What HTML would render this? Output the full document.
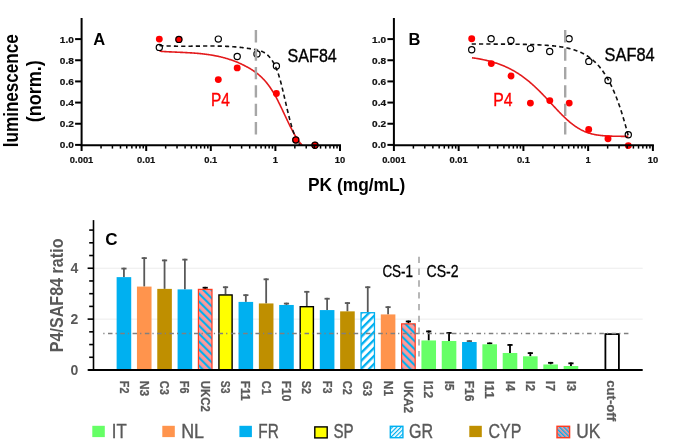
<!DOCTYPE html>
<html><head><meta charset="utf-8"><title>Figure</title>
<style>html,body{margin:0;padding:0;background:#fff;}svg{display:block;will-change:transform;}text{font-family:"Liberation Sans", sans-serif;}</style>
</head><body>
<svg width="685" height="445" viewBox="0 0 685 445">
<rect width="685" height="445" fill="#fff"/>
<g>
<clipPath id="clipA"><rect x="81.6" y="10" width="260.4" height="135.0"/></clipPath>
<path d="M159.50 51.23 L160.15 51.28 L160.81 51.32 L161.46 51.37 L162.12 51.41 L162.77 51.46 L163.43 51.50 L164.08 51.54 L164.74 51.58 L165.39 51.62 L166.05 51.65 L166.70 51.69 L167.36 51.73 L168.01 51.76 L168.67 51.79 L169.32 51.83 L169.98 51.86 L170.63 51.89 L171.29 51.92 L171.94 51.95 L172.60 51.98 L173.25 52.01 L173.91 52.04 L174.56 52.07 L175.22 52.10 L175.87 52.13 L176.53 52.16 L177.18 52.19 L177.83 52.21 L178.49 52.24 L179.14 52.27 L179.80 52.30 L180.45 52.33 L181.11 52.36 L181.76 52.39 L182.42 52.42 L183.07 52.45 L183.73 52.48 L184.38 52.51 L185.04 52.54 L185.69 52.58 L186.35 52.61 L187.00 52.65 L187.66 52.68 L188.31 52.72 L188.97 52.76 L189.62 52.79 L190.28 52.83 L190.93 52.87 L191.59 52.92 L192.24 52.96 L192.90 53.00 L193.55 53.05 L194.21 53.10 L194.86 53.15 L195.51 53.20 L196.17 53.25 L196.82 53.30 L197.48 53.36 L198.13 53.42 L198.79 53.48 L199.44 53.54 L200.10 53.60 L200.75 53.66 L201.41 53.73 L202.06 53.80 L202.72 53.87 L203.37 53.95 L204.03 54.02 L204.68 54.10 L205.34 54.18 L205.99 54.26 L206.65 54.35 L207.30 54.44 L207.96 54.53 L208.61 54.62 L209.27 54.72 L209.92 54.82 L210.58 54.92 L211.23 55.03 L211.88 55.14 L212.54 55.25 L213.19 55.36 L213.85 55.48 L214.50 55.60 L215.16 55.72 L215.81 55.85 L216.47 55.98 L217.12 56.12 L217.78 56.26 L218.43 56.40 L219.09 56.54 L219.74 56.69 L220.40 56.84 L221.05 57.00 L221.71 57.16 L222.36 57.33 L223.02 57.49 L223.67 57.67 L224.33 57.84 L224.98 58.02 L225.64 58.21 L226.29 58.40 L226.95 58.59 L227.60 58.79 L228.26 58.99 L228.91 59.20 L229.56 59.41 L230.22 59.62 L230.87 59.84 L231.53 60.07 L232.18 60.30 L232.84 60.53 L233.49 60.77 L234.15 61.02 L234.80 61.27 L235.46 61.52 L236.11 61.78 L236.77 62.05 L237.42 62.32 L238.08 62.60 L238.73 62.88 L239.39 63.16 L240.04 63.46 L240.70 63.75 L241.35 64.06 L242.01 64.37 L242.66 64.68 L243.32 65.00 L243.97 65.33 L244.63 65.66 L245.28 66.00 L245.94 66.34 L246.59 66.69 L247.24 67.05 L247.90 67.41 L248.55 67.78 L249.21 68.15 L249.86 68.54 L250.52 68.93 L251.17 69.32 L251.83 69.73 L252.48 70.15 L253.14 70.58 L253.79 71.02 L254.45 71.47 L255.10 71.93 L255.76 72.41 L256.41 72.89 L257.07 73.40 L257.72 73.92 L258.38 74.45 L259.03 75.00 L259.69 75.57 L260.34 76.16 L261.00 76.76 L261.65 77.38 L262.31 78.02 L262.96 78.69 L263.62 79.37 L264.27 80.07 L264.92 80.80 L265.58 81.55 L266.23 82.32 L266.89 83.12 L267.54 83.95 L268.20 84.79 L268.85 85.67 L269.51 86.57 L270.16 87.50 L270.82 88.45 L271.47 89.44 L272.13 90.46 L272.78 91.50 L273.44 92.58 L274.09 93.68 L274.75 94.82 L275.40 96.00 L276.06 97.20 L276.71 98.43 L277.37 99.68 L278.02 100.96 L278.68 102.27 L279.33 103.59 L279.99 104.93 L280.64 106.28 L281.29 107.64 L281.95 109.02 L282.60 110.41 L283.26 111.80 L283.91 113.19 L284.57 114.59 L285.22 115.99 L285.88 117.38 L286.53 118.77 L287.19 120.15 L287.84 121.53 L288.50 122.89 L289.15 124.24 L289.81 125.57 L290.46 126.89 L291.12 128.18 L291.77 129.45 L292.43 130.70 L293.08 131.92 L293.74 133.12 L294.39 134.28 L295.05 135.41 L295.70 136.50 L296.36 137.55 L297.01 138.57 L297.67 139.55 L298.32 140.49 L298.97 141.38 L299.63 142.24 L300.28 143.06 L300.94 143.83 L301.59 144.57 L302.25 145.26 L302.90 145.91 L303.56 146.52 L304.21 147.08 L304.87 147.60 L305.52 148.07 L306.18 148.50 L306.83 148.89 L307.49 149.23 L308.14 149.52 L308.80 149.77 L309.45 149.97 L310.11 150.12 L310.76 150.22 L311.42 150.28 L312.07 150.29 L312.73 150.24 L313.38 150.15 L314.04 150.01 L314.69 149.82 L315.35 149.58 L316.00 149.28" fill="none" stroke="#e31a1c" stroke-width="1.6" clip-path="url(#clipA)"/>
<path d="M159.30 45.49 L159.96 45.54 L160.61 45.58 L161.27 45.62 L161.92 45.67 L162.58 45.70 L163.23 45.74 L163.89 45.78 L164.55 45.81 L165.20 45.85 L165.86 45.88 L166.51 45.91 L167.17 45.93 L167.82 45.96 L168.48 45.98 L169.13 46.01 L169.79 46.03 L170.45 46.05 L171.10 46.07 L171.76 46.09 L172.41 46.10 L173.07 46.12 L173.72 46.13 L174.38 46.15 L175.04 46.16 L175.69 46.17 L176.35 46.18 L177.00 46.19 L177.66 46.19 L178.31 46.20 L178.97 46.20 L179.63 46.21 L180.28 46.21 L180.94 46.21 L181.59 46.22 L182.25 46.22 L182.90 46.22 L183.56 46.22 L184.21 46.22 L184.87 46.22 L185.53 46.21 L186.18 46.21 L186.84 46.21 L187.49 46.20 L188.15 46.20 L188.80 46.19 L189.46 46.19 L190.12 46.18 L190.77 46.18 L191.43 46.17 L192.08 46.16 L192.74 46.16 L193.39 46.15 L194.05 46.14 L194.71 46.14 L195.36 46.13 L196.02 46.12 L196.67 46.12 L197.33 46.11 L197.98 46.10 L198.64 46.09 L199.29 46.09 L199.95 46.08 L200.61 46.07 L201.26 46.07 L201.92 46.06 L202.57 46.05 L203.23 46.05 L203.88 46.04 L204.54 46.04 L205.20 46.04 L205.85 46.03 L206.51 46.03 L207.16 46.02 L207.82 46.02 L208.47 46.02 L209.13 46.02 L209.78 46.02 L210.44 46.02 L211.10 46.02 L211.75 46.02 L212.41 46.03 L213.06 46.03 L213.72 46.03 L214.37 46.04 L215.03 46.05 L215.69 46.05 L216.34 46.06 L217.00 46.07 L217.65 46.08 L218.31 46.09 L218.96 46.10 L219.62 46.12 L220.28 46.13 L220.93 46.15 L221.59 46.17 L222.24 46.19 L222.90 46.21 L223.55 46.23 L224.21 46.25 L224.86 46.28 L225.52 46.30 L226.18 46.33 L226.83 46.36 L227.49 46.39 L228.14 46.42 L228.80 46.46 L229.45 46.49 L230.11 46.53 L230.77 46.57 L231.42 46.61 L232.08 46.66 L232.73 46.70 L233.39 46.75 L234.04 46.80 L234.70 46.85 L235.36 46.90 L236.01 46.96 L236.67 47.01 L237.32 47.07 L237.98 47.13 L238.63 47.20 L239.29 47.26 L239.94 47.33 L240.60 47.40 L241.26 47.47 L241.91 47.55 L242.57 47.63 L243.22 47.71 L243.88 47.79 L244.53 47.87 L245.19 47.96 L245.85 48.05 L246.50 48.14 L247.16 48.24 L247.81 48.34 L248.47 48.44 L249.12 48.54 L249.78 48.65 L250.44 48.76 L251.09 48.87 L251.75 48.98 L252.40 49.10 L253.06 49.22 L253.71 49.35 L254.37 49.47 L255.02 49.60 L255.68 49.74 L256.34 49.87 L256.99 50.01 L257.65 50.16 L258.30 50.31 L258.96 50.48 L259.61 50.66 L260.27 50.86 L260.93 51.08 L261.58 51.32 L262.24 51.58 L262.89 51.88 L263.55 52.20 L264.20 52.56 L264.86 52.95 L265.52 53.38 L266.17 53.85 L266.83 54.37 L267.48 54.93 L268.14 55.54 L268.79 56.20 L269.45 56.92 L270.10 57.69 L270.76 58.53 L271.42 59.42 L272.07 60.38 L272.73 61.41 L273.38 62.51 L274.04 63.69 L274.69 64.95 L275.35 66.30 L276.01 67.76 L276.66 69.33 L277.32 71.03 L277.97 72.85 L278.63 74.81 L279.28 76.92 L279.94 79.18 L280.59 81.56 L281.25 84.06 L281.91 86.66 L282.56 89.34 L283.22 92.08 L283.87 94.87 L284.53 97.70 L285.18 100.54 L285.84 103.38 L286.50 106.21 L287.15 109.00 L287.81 111.75 L288.46 114.43 L289.12 117.05 L289.77 119.58 L290.43 122.03 L291.09 124.38 L291.74 126.63 L292.40 128.76 L293.05 130.78 L293.71 132.67 L294.36 134.44 L295.02 136.10 L295.67 137.64 L296.33 139.08 L296.99 140.41 L297.64 141.64 L298.30 142.77 L298.95 143.81 L299.61 144.75 L300.26 145.61 L300.92 146.38 L301.58 147.06 L302.23 147.67 L302.89 148.20 L303.54 148.66 L304.20 149.05 L304.85 149.38 L305.51 149.64 L306.17 149.85 L306.82 149.99 L307.48 150.09 L308.13 150.13 L308.79 150.13 L309.44 150.08 L310.10 150.00 L310.75 149.88 L311.41 149.72 L312.07 149.54 L312.72 149.33 L313.38 149.09 L314.03 148.84 L314.69 148.57 L315.34 148.28 L316.00 147.99" fill="none" stroke="#111" stroke-width="1.6" stroke-dasharray="4.2 3.1" clip-path="url(#clipA)"/>
<circle cx="159.3" cy="39.1" r="3.45" fill="#ff0000"/>
<circle cx="178.9" cy="39.4" r="3.45" fill="#ff0000"/>
<circle cx="218.3" cy="79.6" r="3.45" fill="#ff0000"/>
<circle cx="237.2" cy="67.9" r="3.45" fill="#ff0000"/>
<circle cx="276.4" cy="93.5" r="3.45" fill="#ff0000"/>
<circle cx="295.8" cy="140" r="3.45" fill="#ff0000"/>
<circle cx="315" cy="145.3" r="3.45" fill="#ff0000"/>
<circle cx="159.3" cy="47.4" r="3.1" fill="none" stroke="#000" stroke-width="1.2"/>
<circle cx="178.9" cy="39.4" r="3.1" fill="none" stroke="#000" stroke-width="1.2"/>
<circle cx="218.3" cy="39.1" r="3.1" fill="none" stroke="#000" stroke-width="1.2"/>
<circle cx="237.2" cy="56.5" r="3.1" fill="none" stroke="#000" stroke-width="1.2"/>
<circle cx="257" cy="53.9" r="3.1" fill="none" stroke="#000" stroke-width="1.2"/>
<circle cx="276.4" cy="66" r="3.1" fill="none" stroke="#000" stroke-width="1.2"/>
<circle cx="295.8" cy="140" r="3.1" fill="none" stroke="#000" stroke-width="1.2"/>
<circle cx="315" cy="145.3" r="3.1" fill="none" stroke="#000" stroke-width="1.2"/>
<line x1="255.9" y1="30.1" x2="255.9" y2="134.8" stroke="#a6a6a6" stroke-width="2.4" stroke-dasharray="12.3 6.1"/>
<line x1="81.6" y1="18" x2="81.6" y2="146" stroke="#000" stroke-width="2" />
<line x1="80.6" y1="145.3" x2="341" y2="145.3" stroke="#000" stroke-width="2" />
<line x1="75.1" y1="144.9" x2="81.6" y2="144.9" stroke="#000" stroke-width="2" />
<text x="73.8" y="148.4" font-size="9.3" font-weight="bold" fill="#111" text-anchor="end" stroke="#111" stroke-width="0.2" textLength="14" lengthAdjust="spacingAndGlyphs" >0.0</text>
<line x1="75.1" y1="123.74" x2="81.6" y2="123.74" stroke="#000" stroke-width="2" />
<text x="73.8" y="127.24" font-size="9.3" font-weight="bold" fill="#111" text-anchor="end" stroke="#111" stroke-width="0.2" textLength="14" lengthAdjust="spacingAndGlyphs" >0.2</text>
<line x1="75.1" y1="102.58" x2="81.6" y2="102.58" stroke="#000" stroke-width="2" />
<text x="73.8" y="106.08" font-size="9.3" font-weight="bold" fill="#111" text-anchor="end" stroke="#111" stroke-width="0.2" textLength="14" lengthAdjust="spacingAndGlyphs" >0.4</text>
<line x1="75.1" y1="81.42" x2="81.6" y2="81.42" stroke="#000" stroke-width="2" />
<text x="73.8" y="84.92" font-size="9.3" font-weight="bold" fill="#111" text-anchor="end" stroke="#111" stroke-width="0.2" textLength="14" lengthAdjust="spacingAndGlyphs" >0.6</text>
<line x1="75.1" y1="60.26" x2="81.6" y2="60.26" stroke="#000" stroke-width="2" />
<text x="73.8" y="63.76" font-size="9.3" font-weight="bold" fill="#111" text-anchor="end" stroke="#111" stroke-width="0.2" textLength="14" lengthAdjust="spacingAndGlyphs" >0.8</text>
<line x1="75.1" y1="39.1" x2="81.6" y2="39.1" stroke="#000" stroke-width="2" />
<text x="73.8" y="42.6" font-size="9.3" font-weight="bold" fill="#111" text-anchor="end" stroke="#111" stroke-width="0.2" textLength="14" lengthAdjust="spacingAndGlyphs" >1.0</text>
<line x1="81.6" y1="145" x2="81.6" y2="151" stroke="#000" stroke-width="2" />
<text x="81.6" y="162.8" font-size="9.4" font-weight="bold" fill="#111" text-anchor="middle" stroke="#111" stroke-width="0.2" >0.001</text>
<line x1="101.05" y1="145" x2="101.05" y2="148.6" stroke="#000" stroke-width="1.5" />
<line x1="112.42" y1="145" x2="112.42" y2="148.6" stroke="#000" stroke-width="1.5" />
<line x1="120.49" y1="145" x2="120.49" y2="148.6" stroke="#000" stroke-width="1.5" />
<line x1="126.75" y1="145" x2="126.75" y2="148.6" stroke="#000" stroke-width="1.5" />
<line x1="131.87" y1="145" x2="131.87" y2="148.6" stroke="#000" stroke-width="1.5" />
<line x1="136.19" y1="145" x2="136.19" y2="148.6" stroke="#000" stroke-width="1.5" />
<line x1="139.94" y1="145" x2="139.94" y2="148.6" stroke="#000" stroke-width="1.5" />
<line x1="143.24" y1="145" x2="143.24" y2="148.6" stroke="#000" stroke-width="1.5" />
<line x1="146.2" y1="145" x2="146.2" y2="151" stroke="#000" stroke-width="2" />
<text x="146.2" y="162.8" font-size="9.4" font-weight="bold" fill="#111" text-anchor="middle" stroke="#111" stroke-width="0.2" >0.01</text>
<line x1="165.65" y1="145" x2="165.65" y2="148.6" stroke="#000" stroke-width="1.5" />
<line x1="177.02" y1="145" x2="177.02" y2="148.6" stroke="#000" stroke-width="1.5" />
<line x1="185.09" y1="145" x2="185.09" y2="148.6" stroke="#000" stroke-width="1.5" />
<line x1="191.35" y1="145" x2="191.35" y2="148.6" stroke="#000" stroke-width="1.5" />
<line x1="196.47" y1="145" x2="196.47" y2="148.6" stroke="#000" stroke-width="1.5" />
<line x1="200.79" y1="145" x2="200.79" y2="148.6" stroke="#000" stroke-width="1.5" />
<line x1="204.54" y1="145" x2="204.54" y2="148.6" stroke="#000" stroke-width="1.5" />
<line x1="207.84" y1="145" x2="207.84" y2="148.6" stroke="#000" stroke-width="1.5" />
<line x1="210.8" y1="145" x2="210.8" y2="151" stroke="#000" stroke-width="2" />
<text x="210.8" y="162.8" font-size="9.4" font-weight="bold" fill="#111" text-anchor="middle" stroke="#111" stroke-width="0.2" >0.1</text>
<line x1="230.25" y1="145" x2="230.25" y2="148.6" stroke="#000" stroke-width="1.5" />
<line x1="241.62" y1="145" x2="241.62" y2="148.6" stroke="#000" stroke-width="1.5" />
<line x1="249.69" y1="145" x2="249.69" y2="148.6" stroke="#000" stroke-width="1.5" />
<line x1="255.95" y1="145" x2="255.95" y2="148.6" stroke="#000" stroke-width="1.5" />
<line x1="261.07" y1="145" x2="261.07" y2="148.6" stroke="#000" stroke-width="1.5" />
<line x1="265.39" y1="145" x2="265.39" y2="148.6" stroke="#000" stroke-width="1.5" />
<line x1="269.14" y1="145" x2="269.14" y2="148.6" stroke="#000" stroke-width="1.5" />
<line x1="272.44" y1="145" x2="272.44" y2="148.6" stroke="#000" stroke-width="1.5" />
<line x1="275.4" y1="145" x2="275.4" y2="151" stroke="#000" stroke-width="2" />
<text x="275.4" y="162.8" font-size="9.4" font-weight="bold" fill="#111" text-anchor="middle" stroke="#111" stroke-width="0.2" >1</text>
<line x1="294.85" y1="145" x2="294.85" y2="148.6" stroke="#000" stroke-width="1.5" />
<line x1="306.22" y1="145" x2="306.22" y2="148.6" stroke="#000" stroke-width="1.5" />
<line x1="314.29" y1="145" x2="314.29" y2="148.6" stroke="#000" stroke-width="1.5" />
<line x1="320.55" y1="145" x2="320.55" y2="148.6" stroke="#000" stroke-width="1.5" />
<line x1="325.67" y1="145" x2="325.67" y2="148.6" stroke="#000" stroke-width="1.5" />
<line x1="329.99" y1="145" x2="329.99" y2="148.6" stroke="#000" stroke-width="1.5" />
<line x1="333.74" y1="145" x2="333.74" y2="148.6" stroke="#000" stroke-width="1.5" />
<line x1="337.04" y1="145" x2="337.04" y2="148.6" stroke="#000" stroke-width="1.5" />
<line x1="340" y1="145" x2="340" y2="151" stroke="#000" stroke-width="2" />
<text x="340" y="162.8" font-size="9.4" font-weight="bold" fill="#111" text-anchor="middle" stroke="#111" stroke-width="0.2" >10</text>
<text x="93.3" y="45.3" font-size="16.5" font-weight="bold" fill="#000" text-anchor="start" >A</text>
<text x="287.6" y="61.7" font-size="17.6" font-weight="normal" fill="#000" text-anchor="start" stroke="#000" stroke-width="0.35" textLength="49.2" lengthAdjust="spacingAndGlyphs" >SAF84</text>
<text x="211" y="105.6" font-size="17.6" font-weight="normal" fill="#ff0000" text-anchor="start" stroke="#ff0000" stroke-width="0.35" textLength="18.9" lengthAdjust="spacingAndGlyphs" >P4</text>
</g>
<g>
<clipPath id="clipB"><rect x="393.9" y="10" width="261.0" height="135.0"/></clipPath>
<path d="M472.00 57.74 L472.65 57.84 L473.31 57.93 L473.96 58.03 L474.62 58.13 L475.27 58.23 L475.92 58.33 L476.58 58.44 L477.23 58.55 L477.89 58.66 L478.54 58.78 L479.19 58.90 L479.85 59.02 L480.50 59.14 L481.16 59.26 L481.81 59.39 L482.46 59.53 L483.12 59.66 L483.77 59.80 L484.43 59.94 L485.08 60.09 L485.73 60.23 L486.39 60.39 L487.04 60.54 L487.70 60.70 L488.35 60.86 L489.00 61.03 L489.66 61.20 L490.31 61.37 L490.97 61.55 L491.62 61.73 L492.27 61.92 L492.93 62.11 L493.58 62.30 L494.24 62.50 L494.89 62.71 L495.54 62.91 L496.20 63.13 L496.85 63.34 L497.51 63.56 L498.16 63.79 L498.81 64.02 L499.47 64.26 L500.12 64.50 L500.77 64.75 L501.43 65.00 L502.08 65.26 L502.74 65.52 L503.39 65.79 L504.04 66.07 L504.70 66.35 L505.35 66.63 L506.01 66.92 L506.66 67.22 L507.31 67.53 L507.97 67.84 L508.62 68.15 L509.28 68.47 L509.93 68.80 L510.58 69.14 L511.24 69.48 L511.89 69.83 L512.55 70.19 L513.20 70.55 L513.85 70.92 L514.51 71.29 L515.16 71.68 L515.82 72.07 L516.47 72.46 L517.12 72.87 L517.78 73.28 L518.43 73.70 L519.09 74.13 L519.74 74.56 L520.39 75.00 L521.05 75.45 L521.70 75.91 L522.36 76.37 L523.01 76.84 L523.66 77.32 L524.32 77.81 L524.97 78.30 L525.63 78.80 L526.28 79.31 L526.93 79.83 L527.59 80.35 L528.24 80.88 L528.90 81.42 L529.55 81.97 L530.20 82.53 L530.86 83.09 L531.51 83.66 L532.17 84.23 L532.82 84.82 L533.47 85.41 L534.13 86.00 L534.78 86.61 L535.44 87.22 L536.09 87.84 L536.74 88.46 L537.40 89.09 L538.05 89.73 L538.71 90.37 L539.36 91.02 L540.01 91.67 L540.67 92.33 L541.32 92.99 L541.98 93.66 L542.63 94.33 L543.28 95.01 L543.94 95.69 L544.59 96.38 L545.25 97.07 L545.90 97.76 L546.55 98.46 L547.21 99.16 L547.86 99.86 L548.52 100.56 L549.17 101.26 L549.82 101.97 L550.48 102.68 L551.13 103.38 L551.78 104.09 L552.44 104.80 L553.09 105.50 L553.75 106.21 L554.40 106.91 L555.05 107.62 L555.71 108.32 L556.36 109.01 L557.02 109.71 L557.67 110.40 L558.32 111.09 L558.98 111.77 L559.63 112.45 L560.29 113.12 L560.94 113.79 L561.59 114.45 L562.25 115.10 L562.90 115.75 L563.56 116.39 L564.21 117.02 L564.86 117.65 L565.52 118.27 L566.17 118.87 L566.83 119.47 L567.48 120.06 L568.13 120.64 L568.79 121.21 L569.44 121.77 L570.10 122.32 L570.75 122.86 L571.40 123.39 L572.06 123.90 L572.71 124.41 L573.37 124.90 L574.02 125.38 L574.67 125.85 L575.33 126.31 L575.98 126.75 L576.64 127.19 L577.29 127.61 L577.94 128.02 L578.60 128.41 L579.25 128.79 L579.91 129.17 L580.56 129.52 L581.21 129.87 L581.87 130.20 L582.52 130.53 L583.18 130.84 L583.83 131.14 L584.48 131.42 L585.14 131.70 L585.79 131.96 L586.45 132.21 L587.10 132.46 L587.75 132.69 L588.41 132.91 L589.06 133.12 L589.72 133.32 L590.37 133.51 L591.02 133.69 L591.68 133.86 L592.33 134.03 L592.99 134.18 L593.64 134.33 L594.29 134.47 L594.95 134.60 L595.60 134.72 L596.26 134.84 L596.91 134.95 L597.56 135.05 L598.22 135.15 L598.87 135.24 L599.53 135.32 L600.18 135.40 L600.83 135.48 L601.49 135.55 L602.14 135.61 L602.79 135.67 L603.45 135.73 L604.10 135.78 L604.76 135.83 L605.41 135.88 L606.06 135.92 L606.72 135.96 L607.37 135.99 L608.03 136.02 L608.68 136.05 L609.33 136.08 L609.99 136.11 L610.64 136.13 L611.30 136.15 L611.95 136.17 L612.60 136.19 L613.26 136.21 L613.91 136.22 L614.57 136.24 L615.22 136.25 L615.87 136.26 L616.53 136.27 L617.18 136.28 L617.84 136.29 L618.49 136.30 L619.14 136.31 L619.80 136.31 L620.45 136.32 L621.11 136.33 L621.76 136.33 L622.41 136.34 L623.07 136.34 L623.72 136.34 L624.38 136.35 L625.03 136.35 L625.68 136.35 L626.34 136.35 L626.99 136.36 L627.65 136.36 L628.30 136.36" fill="none" stroke="#e31a1c" stroke-width="1.6" clip-path="url(#clipB)"/>
<path d="M471.70 44.03 L472.36 44.03 L473.01 44.03 L473.67 44.03 L474.32 44.03 L474.98 44.03 L475.63 44.03 L476.29 44.03 L476.94 44.03 L477.60 44.03 L478.25 44.04 L478.91 44.04 L479.56 44.04 L480.22 44.04 L480.87 44.04 L481.53 44.04 L482.18 44.04 L482.84 44.04 L483.49 44.05 L484.15 44.05 L484.80 44.05 L485.46 44.05 L486.12 44.05 L486.77 44.05 L487.43 44.05 L488.08 44.06 L488.74 44.06 L489.39 44.06 L490.05 44.06 L490.70 44.06 L491.36 44.07 L492.01 44.07 L492.67 44.07 L493.32 44.07 L493.98 44.08 L494.63 44.08 L495.29 44.08 L495.94 44.08 L496.60 44.09 L497.25 44.09 L497.91 44.09 L498.56 44.10 L499.22 44.10 L499.87 44.10 L500.53 44.11 L501.19 44.11 L501.84 44.11 L502.50 44.12 L503.15 44.12 L503.81 44.13 L504.46 44.13 L505.12 44.14 L505.77 44.14 L506.43 44.15 L507.08 44.15 L507.74 44.16 L508.39 44.16 L509.05 44.17 L509.70 44.17 L510.36 44.18 L511.01 44.19 L511.67 44.19 L512.32 44.20 L512.98 44.21 L513.63 44.22 L514.29 44.22 L514.95 44.23 L515.60 44.24 L516.26 44.25 L516.91 44.26 L517.57 44.27 L518.22 44.28 L518.88 44.29 L519.53 44.30 L520.19 44.31 L520.84 44.32 L521.50 44.33 L522.15 44.34 L522.81 44.35 L523.46 44.37 L524.12 44.38 L524.77 44.39 L525.43 44.41 L526.08 44.42 L526.74 44.44 L527.39 44.45 L528.05 44.47 L528.71 44.49 L529.36 44.51 L530.02 44.52 L530.67 44.54 L531.33 44.56 L531.98 44.58 L532.64 44.60 L533.29 44.63 L533.95 44.65 L534.60 44.67 L535.26 44.70 L535.91 44.72 L536.57 44.75 L537.22 44.78 L537.88 44.81 L538.53 44.83 L539.19 44.87 L539.84 44.90 L540.50 44.93 L541.15 44.96 L541.81 45.00 L542.46 45.04 L543.12 45.07 L543.78 45.11 L544.43 45.15 L545.09 45.20 L545.74 45.24 L546.40 45.28 L547.05 45.33 L547.71 45.38 L548.36 45.43 L549.02 45.48 L549.67 45.54 L550.33 45.59 L550.98 45.65 L551.64 45.71 L552.29 45.78 L552.95 45.84 L553.60 45.91 L554.26 45.98 L554.91 46.05 L555.57 46.13 L556.22 46.20 L556.88 46.29 L557.54 46.37 L558.19 46.46 L558.85 46.55 L559.50 46.64 L560.16 46.73 L560.81 46.84 L561.47 46.94 L562.12 47.05 L562.78 47.16 L563.43 47.27 L564.09 47.39 L564.74 47.52 L565.40 47.65 L566.05 47.78 L566.71 47.92 L567.36 48.06 L568.02 48.21 L568.67 48.36 L569.33 48.52 L569.98 48.68 L570.64 48.86 L571.29 49.03 L571.95 49.22 L572.61 49.40 L573.26 49.60 L573.92 49.81 L574.57 50.02 L575.23 50.23 L575.88 50.46 L576.54 50.70 L577.19 50.94 L577.85 51.19 L578.50 51.45 L579.16 51.72 L579.81 52.00 L580.47 52.29 L581.12 52.59 L581.78 52.90 L582.43 53.22 L583.09 53.55 L583.74 53.89 L584.40 54.25 L585.05 54.62 L585.71 55.00 L586.37 55.39 L587.02 55.80 L587.68 56.22 L588.33 56.66 L588.99 57.11 L589.64 57.58 L590.30 58.06 L590.95 58.56 L591.61 59.08 L592.26 59.62 L592.92 60.17 L593.57 60.74 L594.23 61.33 L594.88 61.94 L595.54 62.58 L596.19 63.23 L596.85 63.90 L597.50 64.60 L598.16 65.32 L598.81 66.07 L599.47 66.83 L600.13 67.63 L600.78 68.45 L601.44 69.29 L602.09 70.17 L602.75 71.07 L603.40 72.00 L604.06 72.96 L604.71 73.94 L605.37 74.97 L606.02 76.02 L606.68 77.10 L607.33 78.22 L607.99 79.37 L608.64 80.56 L609.30 81.78 L609.95 83.04 L610.61 84.34 L611.26 85.67 L611.92 87.05 L612.57 88.46 L613.23 89.92 L613.88 91.41 L614.54 92.95 L615.20 94.53 L615.85 96.15 L616.51 97.82 L617.16 99.53 L617.82 101.29 L618.47 103.10 L619.13 104.95 L619.78 106.85 L620.44 108.80 L621.09 110.79 L621.75 112.83 L622.40 114.93 L623.06 117.07 L623.71 119.26 L624.37 121.51 L625.02 123.80 L625.68 126.15 L626.33 128.54 L626.99 130.99 L627.64 133.49 L628.30 136.04" fill="none" stroke="#111" stroke-width="1.6" stroke-dasharray="4.2 3.1" clip-path="url(#clipB)"/>
<circle cx="471.7" cy="38.8" r="3.45" fill="#ff0000"/>
<circle cx="491.3" cy="63.6" r="3.45" fill="#ff0000"/>
<circle cx="511" cy="76" r="3.45" fill="#ff0000"/>
<circle cx="530.4" cy="103.1" r="3.45" fill="#ff0000"/>
<circle cx="549.8" cy="100.6" r="3.45" fill="#ff0000"/>
<circle cx="569.2" cy="103.1" r="3.45" fill="#ff0000"/>
<circle cx="588.7" cy="129.4" r="3.45" fill="#ff0000"/>
<circle cx="608" cy="138.8" r="3.45" fill="#ff0000"/>
<circle cx="628.3" cy="145.6" r="3.45" fill="#ff0000"/>
<circle cx="471.7" cy="49.8" r="3.1" fill="none" stroke="#000" stroke-width="1.2"/>
<circle cx="491.1" cy="38.8" r="3.1" fill="none" stroke="#000" stroke-width="1.2"/>
<circle cx="510.9" cy="40.4" r="3.1" fill="none" stroke="#000" stroke-width="1.2"/>
<circle cx="530.5" cy="48.6" r="3.1" fill="none" stroke="#000" stroke-width="1.2"/>
<circle cx="549.7" cy="51.5" r="3.1" fill="none" stroke="#000" stroke-width="1.2"/>
<circle cx="569.1" cy="38.8" r="3.1" fill="none" stroke="#000" stroke-width="1.2"/>
<circle cx="588.8" cy="61.4" r="3.1" fill="none" stroke="#000" stroke-width="1.2"/>
<circle cx="608" cy="80.5" r="3.1" fill="none" stroke="#000" stroke-width="1.2"/>
<circle cx="628.3" cy="134.8" r="3.1" fill="none" stroke="#000" stroke-width="1.2"/>
<line x1="565.2" y1="30.1" x2="565.2" y2="134.8" stroke="#a6a6a6" stroke-width="2.4" stroke-dasharray="12.3 6.1"/>
<line x1="393.9" y1="18" x2="393.9" y2="146" stroke="#000" stroke-width="2" />
<line x1="392.9" y1="145.3" x2="653.9" y2="145.3" stroke="#000" stroke-width="2" />
<line x1="387.4" y1="144.9" x2="393.9" y2="144.9" stroke="#000" stroke-width="2" />
<text x="386.1" y="148.4" font-size="9.3" font-weight="bold" fill="#111" text-anchor="end" stroke="#111" stroke-width="0.2" textLength="14" lengthAdjust="spacingAndGlyphs" >0.0</text>
<line x1="387.4" y1="123.74" x2="393.9" y2="123.74" stroke="#000" stroke-width="2" />
<text x="386.1" y="127.24" font-size="9.3" font-weight="bold" fill="#111" text-anchor="end" stroke="#111" stroke-width="0.2" textLength="14" lengthAdjust="spacingAndGlyphs" >0.2</text>
<line x1="387.4" y1="102.58" x2="393.9" y2="102.58" stroke="#000" stroke-width="2" />
<text x="386.1" y="106.08" font-size="9.3" font-weight="bold" fill="#111" text-anchor="end" stroke="#111" stroke-width="0.2" textLength="14" lengthAdjust="spacingAndGlyphs" >0.4</text>
<line x1="387.4" y1="81.42" x2="393.9" y2="81.42" stroke="#000" stroke-width="2" />
<text x="386.1" y="84.92" font-size="9.3" font-weight="bold" fill="#111" text-anchor="end" stroke="#111" stroke-width="0.2" textLength="14" lengthAdjust="spacingAndGlyphs" >0.6</text>
<line x1="387.4" y1="60.26" x2="393.9" y2="60.26" stroke="#000" stroke-width="2" />
<text x="386.1" y="63.76" font-size="9.3" font-weight="bold" fill="#111" text-anchor="end" stroke="#111" stroke-width="0.2" textLength="14" lengthAdjust="spacingAndGlyphs" >0.8</text>
<line x1="387.4" y1="39.1" x2="393.9" y2="39.1" stroke="#000" stroke-width="2" />
<text x="386.1" y="42.6" font-size="9.3" font-weight="bold" fill="#111" text-anchor="end" stroke="#111" stroke-width="0.2" textLength="14" lengthAdjust="spacingAndGlyphs" >1.0</text>
<line x1="393.9" y1="145" x2="393.9" y2="151" stroke="#000" stroke-width="2" />
<text x="393.9" y="162.8" font-size="9.4" font-weight="bold" fill="#111" text-anchor="middle" stroke="#111" stroke-width="0.2" >0.001</text>
<line x1="413.39" y1="145" x2="413.39" y2="148.6" stroke="#000" stroke-width="1.5" />
<line x1="424.79" y1="145" x2="424.79" y2="148.6" stroke="#000" stroke-width="1.5" />
<line x1="432.88" y1="145" x2="432.88" y2="148.6" stroke="#000" stroke-width="1.5" />
<line x1="439.16" y1="145" x2="439.16" y2="148.6" stroke="#000" stroke-width="1.5" />
<line x1="444.29" y1="145" x2="444.29" y2="148.6" stroke="#000" stroke-width="1.5" />
<line x1="448.62" y1="145" x2="448.62" y2="148.6" stroke="#000" stroke-width="1.5" />
<line x1="452.38" y1="145" x2="452.38" y2="148.6" stroke="#000" stroke-width="1.5" />
<line x1="455.69" y1="145" x2="455.69" y2="148.6" stroke="#000" stroke-width="1.5" />
<line x1="458.65" y1="145" x2="458.65" y2="151" stroke="#000" stroke-width="2" />
<text x="458.65" y="162.8" font-size="9.4" font-weight="bold" fill="#111" text-anchor="middle" stroke="#111" stroke-width="0.2" >0.01</text>
<line x1="478.14" y1="145" x2="478.14" y2="148.6" stroke="#000" stroke-width="1.5" />
<line x1="489.54" y1="145" x2="489.54" y2="148.6" stroke="#000" stroke-width="1.5" />
<line x1="497.63" y1="145" x2="497.63" y2="148.6" stroke="#000" stroke-width="1.5" />
<line x1="503.91" y1="145" x2="503.91" y2="148.6" stroke="#000" stroke-width="1.5" />
<line x1="509.04" y1="145" x2="509.04" y2="148.6" stroke="#000" stroke-width="1.5" />
<line x1="513.37" y1="145" x2="513.37" y2="148.6" stroke="#000" stroke-width="1.5" />
<line x1="517.13" y1="145" x2="517.13" y2="148.6" stroke="#000" stroke-width="1.5" />
<line x1="520.44" y1="145" x2="520.44" y2="148.6" stroke="#000" stroke-width="1.5" />
<line x1="523.4" y1="145" x2="523.4" y2="151" stroke="#000" stroke-width="2" />
<text x="523.4" y="162.8" font-size="9.4" font-weight="bold" fill="#111" text-anchor="middle" stroke="#111" stroke-width="0.2" >0.1</text>
<line x1="542.89" y1="145" x2="542.89" y2="148.6" stroke="#000" stroke-width="1.5" />
<line x1="554.29" y1="145" x2="554.29" y2="148.6" stroke="#000" stroke-width="1.5" />
<line x1="562.38" y1="145" x2="562.38" y2="148.6" stroke="#000" stroke-width="1.5" />
<line x1="568.66" y1="145" x2="568.66" y2="148.6" stroke="#000" stroke-width="1.5" />
<line x1="573.79" y1="145" x2="573.79" y2="148.6" stroke="#000" stroke-width="1.5" />
<line x1="578.12" y1="145" x2="578.12" y2="148.6" stroke="#000" stroke-width="1.5" />
<line x1="581.88" y1="145" x2="581.88" y2="148.6" stroke="#000" stroke-width="1.5" />
<line x1="585.19" y1="145" x2="585.19" y2="148.6" stroke="#000" stroke-width="1.5" />
<line x1="588.15" y1="145" x2="588.15" y2="151" stroke="#000" stroke-width="2" />
<text x="588.15" y="162.8" font-size="9.4" font-weight="bold" fill="#111" text-anchor="middle" stroke="#111" stroke-width="0.2" >1</text>
<line x1="607.64" y1="145" x2="607.64" y2="148.6" stroke="#000" stroke-width="1.5" />
<line x1="619.04" y1="145" x2="619.04" y2="148.6" stroke="#000" stroke-width="1.5" />
<line x1="627.13" y1="145" x2="627.13" y2="148.6" stroke="#000" stroke-width="1.5" />
<line x1="633.41" y1="145" x2="633.41" y2="148.6" stroke="#000" stroke-width="1.5" />
<line x1="638.54" y1="145" x2="638.54" y2="148.6" stroke="#000" stroke-width="1.5" />
<line x1="642.87" y1="145" x2="642.87" y2="148.6" stroke="#000" stroke-width="1.5" />
<line x1="646.63" y1="145" x2="646.63" y2="148.6" stroke="#000" stroke-width="1.5" />
<line x1="649.94" y1="145" x2="649.94" y2="148.6" stroke="#000" stroke-width="1.5" />
<line x1="652.9" y1="145" x2="652.9" y2="151" stroke="#000" stroke-width="2" />
<text x="652.9" y="162.8" font-size="9.4" font-weight="bold" fill="#111" text-anchor="middle" stroke="#111" stroke-width="0.2" >10</text>
<text x="408.4" y="45.3" font-size="16.5" font-weight="bold" fill="#000" text-anchor="start" >B</text>
<text x="604.6" y="61.4" font-size="17.6" font-weight="normal" fill="#000" text-anchor="start" stroke="#000" stroke-width="0.35" textLength="50" lengthAdjust="spacingAndGlyphs" >SAF84</text>
<text x="493.3" y="105.6" font-size="17.6" font-weight="normal" fill="#ff0000" text-anchor="start" stroke="#ff0000" stroke-width="0.35" textLength="19.3" lengthAdjust="spacingAndGlyphs" >P4</text>
</g>
<text x="18.2" y="90.7" font-size="20" font-weight="bold" fill="#000" text-anchor="middle" textLength="113" lengthAdjust="spacingAndGlyphs" transform="rotate(-90 18.2 90.7)" >luminescence</text>
<text x="41.5" y="91.3" font-size="20" font-weight="bold" fill="#000" text-anchor="middle" textLength="62" lengthAdjust="spacingAndGlyphs" transform="rotate(-90 41.5 91.3)" >(norm.)</text>
<text x="308" y="190.6" font-size="18" font-weight="bold" fill="#000" text-anchor="start" textLength="97.4" lengthAdjust="spacingAndGlyphs" >PK (mg/mL)</text>
<defs>
<pattern id="ukh" patternUnits="userSpaceOnUse" width="5.66" height="5.66" patternTransform="rotate(-45)"><rect width="5.66" height="5.66" fill="#ff9999"/><rect width="2.1" height="5.66" fill="#00b0f0"/></pattern>
<pattern id="grh" patternUnits="userSpaceOnUse" width="5.66" height="5.66" patternTransform="rotate(45)"><rect width="5.66" height="5.66" fill="#fff"/><rect width="2.3" height="5.66" fill="#00b0f0"/></pattern>
<pattern id="ukhl" patternUnits="userSpaceOnUse" width="3.0" height="3.0" patternTransform="rotate(-45)"><rect width="3.0" height="3.0" fill="#ff9999"/><rect width="1.4" height="3.0" fill="#00b0f0"/></pattern>
<pattern id="grhl" patternUnits="userSpaceOnUse" width="3.0" height="3.0" patternTransform="rotate(45)"><rect width="3.0" height="3.0" fill="#fff"/><rect width="1.2" height="3.0" fill="#00b0f0"/></pattern>
</defs>
<line x1="93.5" y1="319.12" x2="642.7" y2="319.12" stroke="#ececec" stroke-width="1" />
<line x1="93.5" y1="268.24" x2="642.7" y2="268.24" stroke="#ececec" stroke-width="1" />
<line x1="123.92" y1="267.69" x2="123.92" y2="277.13" stroke="#595959" stroke-width="1.8" />
<line x1="121.32" y1="268.59" x2="126.52" y2="268.59" stroke="#595959" stroke-width="1.8" />
<rect x="116.62" y="277.13" width="14.6" height="92.87" fill="#00b0f0" />
<line x1="144.24" y1="257.22" x2="144.24" y2="286.58" stroke="#595959" stroke-width="1.8" />
<line x1="141.64" y1="258.12" x2="146.84" y2="258.12" stroke="#595959" stroke-width="1.8" />
<rect x="136.94" y="286.58" width="14.6" height="83.42" fill="#ff944d" />
<line x1="164.56" y1="259.52" x2="164.56" y2="288.88" stroke="#595959" stroke-width="1.8" />
<line x1="161.96" y1="260.42" x2="167.16" y2="260.42" stroke="#595959" stroke-width="1.8" />
<rect x="157.26" y="288.88" width="14.6" height="81.12" fill="#bf8f00" />
<line x1="184.88" y1="258.75" x2="184.88" y2="289.39" stroke="#595959" stroke-width="1.8" />
<line x1="182.28" y1="259.65" x2="187.48" y2="259.65" stroke="#595959" stroke-width="1.8" />
<rect x="177.58" y="289.39" width="14.6" height="80.61" fill="#00b0f0" />
<line x1="205.2" y1="286.85" x2="205.2" y2="288.88" stroke="#000" stroke-width="1.8" />
<line x1="202.6" y1="287.75" x2="207.8" y2="287.75" stroke="#000" stroke-width="1.8" />
<rect x="198.4" y="289.38" width="13.6" height="80.62" fill="url(#ukh)" stroke="#ff3b1f" stroke-width="1.2" />
<line x1="225.52" y1="286.33" x2="225.52" y2="294.25" stroke="#595959" stroke-width="1.8" />
<line x1="222.92" y1="287.23" x2="228.12" y2="287.23" stroke="#595959" stroke-width="1.8" />
<rect x="218.92" y="294.95" width="13.2" height="75.05" fill="#ffff00" stroke="#000" stroke-width="1.4" />
<line x1="245.84" y1="294.25" x2="245.84" y2="301.91" stroke="#595959" stroke-width="1.8" />
<line x1="243.24" y1="295.15" x2="248.44" y2="295.15" stroke="#595959" stroke-width="1.8" />
<rect x="238.54" y="301.91" width="14.6" height="68.09" fill="#00b0f0" />
<line x1="266.16" y1="278.42" x2="266.16" y2="303.44" stroke="#595959" stroke-width="1.8" />
<line x1="263.56" y1="279.32" x2="268.76" y2="279.32" stroke="#595959" stroke-width="1.8" />
<rect x="258.86" y="303.44" width="14.6" height="66.56" fill="#bf8f00" />
<line x1="286.48" y1="302.68" x2="286.48" y2="304.97" stroke="#595959" stroke-width="1.8" />
<line x1="283.88" y1="303.58" x2="289.08" y2="303.58" stroke="#595959" stroke-width="1.8" />
<rect x="279.18" y="304.97" width="14.6" height="65.03" fill="#00b0f0" />
<line x1="306.8" y1="290.93" x2="306.8" y2="305.99" stroke="#595959" stroke-width="1.8" />
<line x1="304.2" y1="291.83" x2="309.4" y2="291.83" stroke="#595959" stroke-width="1.8" />
<rect x="300.2" y="306.69" width="13.2" height="63.31" fill="#ffff00" stroke="#000" stroke-width="1.4" />
<line x1="327.12" y1="297.83" x2="327.12" y2="310.08" stroke="#595959" stroke-width="1.8" />
<line x1="324.52" y1="298.73" x2="329.72" y2="298.73" stroke="#595959" stroke-width="1.8" />
<rect x="319.82" y="310.08" width="14.6" height="59.92" fill="#00b0f0" />
<line x1="347.44" y1="302.17" x2="347.44" y2="311.36" stroke="#595959" stroke-width="1.8" />
<line x1="344.84" y1="303.07" x2="350.04" y2="303.07" stroke="#595959" stroke-width="1.8" />
<rect x="340.14" y="311.36" width="14.6" height="58.64" fill="#bf8f00" />
<line x1="367.76" y1="286.33" x2="367.76" y2="312.12" stroke="#595959" stroke-width="1.8" />
<line x1="365.16" y1="287.23" x2="370.36" y2="287.23" stroke="#595959" stroke-width="1.8" />
<rect x="361.06" y="312.72" width="13.4" height="57.28" fill="url(#grh)" stroke="#00b0f0" stroke-width="1.3" />
<line x1="388.08" y1="306.26" x2="388.08" y2="314.42" stroke="#595959" stroke-width="1.8" />
<line x1="385.48" y1="307.16" x2="390.68" y2="307.16" stroke="#595959" stroke-width="1.8" />
<rect x="380.78" y="314.42" width="14.6" height="55.58" fill="#ff944d" />
<line x1="408.4" y1="320.56" x2="408.4" y2="323.36" stroke="#000" stroke-width="1.8" />
<line x1="405.8" y1="321.46" x2="411" y2="321.46" stroke="#000" stroke-width="1.8" />
<rect x="401.6" y="323.86" width="13.6" height="46.14" fill="url(#ukh)" stroke="#ff3b1f" stroke-width="1.2" />
<line x1="428.72" y1="330.52" x2="428.72" y2="340.47" stroke="#000" stroke-width="1.8" />
<line x1="426.12" y1="331.42" x2="431.32" y2="331.42" stroke="#000" stroke-width="1.8" />
<rect x="421.42" y="340.47" width="14.6" height="29.53" fill="#66ff66" />
<line x1="449.04" y1="332.05" x2="449.04" y2="340.98" stroke="#000" stroke-width="1.8" />
<line x1="446.44" y1="332.95" x2="451.64" y2="332.95" stroke="#000" stroke-width="1.8" />
<rect x="441.74" y="340.98" width="14.6" height="29.02" fill="#66ff66" />
<line x1="469.36" y1="340.22" x2="469.36" y2="342.01" stroke="#595959" stroke-width="1.8" />
<line x1="466.76" y1="341.12" x2="471.96" y2="341.12" stroke="#595959" stroke-width="1.8" />
<rect x="462.06" y="342.01" width="14.6" height="27.99" fill="#00b0f0" />
<line x1="489.68" y1="342.52" x2="489.68" y2="344.3" stroke="#000" stroke-width="1.8" />
<line x1="487.08" y1="343.42" x2="492.28" y2="343.42" stroke="#000" stroke-width="1.8" />
<rect x="482.38" y="344.3" width="14.6" height="25.7" fill="#66ff66" />
<line x1="510" y1="344.05" x2="510" y2="352.99" stroke="#000" stroke-width="1.8" />
<line x1="507.4" y1="344.95" x2="512.6" y2="344.95" stroke="#000" stroke-width="1.8" />
<rect x="502.7" y="352.99" width="14.6" height="17.01" fill="#66ff66" />
<line x1="530.32" y1="352.23" x2="530.32" y2="356.31" stroke="#000" stroke-width="1.8" />
<line x1="527.72" y1="353.13" x2="532.92" y2="353.13" stroke="#000" stroke-width="1.8" />
<rect x="523.02" y="356.31" width="14.6" height="13.69" fill="#66ff66" />
<line x1="550.64" y1="361.93" x2="550.64" y2="364.48" stroke="#000" stroke-width="1.8" />
<line x1="548.04" y1="362.83" x2="553.24" y2="362.83" stroke="#000" stroke-width="1.8" />
<rect x="543.34" y="364.48" width="14.6" height="5.52" fill="#66ff66" />
<line x1="570.96" y1="362.44" x2="570.96" y2="366.01" stroke="#000" stroke-width="1.8" />
<line x1="568.36" y1="363.34" x2="573.56" y2="363.34" stroke="#000" stroke-width="1.8" />
<rect x="563.66" y="366.01" width="14.6" height="3.99" fill="#66ff66" />
<rect x="605.4" y="334.1" width="13.5" height="35.9" fill="#fff" stroke="#000" stroke-width="1.8" />
<line x1="103.3" y1="333.5" x2="628.5" y2="333.5" stroke="#7f7f7f" stroke-width="1.4" stroke-dasharray="1.2 3.5 4.5 3.084"/>
<line x1="419" y1="256.8" x2="419" y2="356.5" stroke="#a6a6a6" stroke-width="1.6" stroke-dasharray="6.3 5.48"/>
<line x1="93.5" y1="220.1" x2="93.5" y2="371" stroke="#000" stroke-width="1.6" />
<line x1="88.2" y1="370" x2="642.7" y2="370" stroke="#000" stroke-width="2" />
<line x1="87.6" y1="370" x2="93.5" y2="370" stroke="#000" stroke-width="1.6" />
<line x1="89.2" y1="357.28" x2="93.5" y2="357.28" stroke="#000" stroke-width="1.6" />
<line x1="89.2" y1="344.56" x2="93.5" y2="344.56" stroke="#000" stroke-width="1.6" />
<line x1="89.2" y1="331.84" x2="93.5" y2="331.84" stroke="#000" stroke-width="1.6" />
<line x1="87.6" y1="319.12" x2="93.5" y2="319.12" stroke="#000" stroke-width="1.6" />
<line x1="89.2" y1="306.4" x2="93.5" y2="306.4" stroke="#000" stroke-width="1.6" />
<line x1="89.2" y1="293.68" x2="93.5" y2="293.68" stroke="#000" stroke-width="1.6" />
<line x1="89.2" y1="280.96" x2="93.5" y2="280.96" stroke="#000" stroke-width="1.6" />
<line x1="87.6" y1="268.24" x2="93.5" y2="268.24" stroke="#000" stroke-width="1.6" />
<line x1="89.2" y1="255.52" x2="93.5" y2="255.52" stroke="#000" stroke-width="1.6" />
<line x1="89.2" y1="242.8" x2="93.5" y2="242.8" stroke="#000" stroke-width="1.6" />
<line x1="89.2" y1="230.08" x2="93.5" y2="230.08" stroke="#000" stroke-width="1.6" />
<text x="78.4" y="375" font-size="14" font-weight="bold" fill="#595959" text-anchor="end" >0</text>
<text x="78.4" y="324.12" font-size="14" font-weight="bold" fill="#595959" text-anchor="end" >2</text>
<text x="78.4" y="273.24" font-size="14" font-weight="bold" fill="#595959" text-anchor="end" >4</text>
<text x="105.2" y="245.4" font-size="17" font-weight="bold" fill="#000" text-anchor="start" >C</text>
<text x="62.7" y="295.4" font-size="17.8" font-weight="bold" fill="#595959" text-anchor="middle" textLength="113.8" lengthAdjust="spacingAndGlyphs" transform="rotate(-90 62.7 295.4)" >P4/SAF84 ratio</text>
<text x="382.4" y="276.6" font-size="15.8" font-weight="normal" fill="#000" text-anchor="start" stroke="#000" stroke-width="0.3" textLength="30.7" lengthAdjust="spacingAndGlyphs" >CS-1</text>
<text x="426.5" y="276.6" font-size="15.8" font-weight="normal" fill="#000" text-anchor="start" stroke="#000" stroke-width="0.3" textLength="32" lengthAdjust="spacingAndGlyphs" >CS-2</text>
<text x="119.52" y="380.8" font-size="12" font-weight="bold" fill="#595959" text-anchor="start" stroke="#595959" stroke-width="0.25" textLength="12.6" lengthAdjust="spacingAndGlyphs" transform="rotate(90 119.52 380.8)" >F2</text>
<text x="139.84" y="380.8" font-size="12" font-weight="bold" fill="#595959" text-anchor="start" stroke="#595959" stroke-width="0.25" textLength="15.5" lengthAdjust="spacingAndGlyphs" transform="rotate(90 139.84 380.8)" >N3</text>
<text x="160.16" y="380.8" font-size="12" font-weight="bold" fill="#595959" text-anchor="start" stroke="#595959" stroke-width="0.25" textLength="13.9" lengthAdjust="spacingAndGlyphs" transform="rotate(90 160.16 380.8)" >C3</text>
<text x="180.48" y="380.8" font-size="12" font-weight="bold" fill="#595959" text-anchor="start" stroke="#595959" stroke-width="0.25" textLength="12.6" lengthAdjust="spacingAndGlyphs" transform="rotate(90 180.48 380.8)" >F6</text>
<text x="200.8" y="380.8" font-size="12" font-weight="bold" fill="#595959" text-anchor="start" stroke="#595959" stroke-width="0.25" textLength="31" lengthAdjust="spacingAndGlyphs" transform="rotate(90 200.8 380.8)" >UKC2</text>
<text x="221.12" y="380.8" font-size="12" font-weight="bold" fill="#595959" text-anchor="start" stroke="#595959" stroke-width="0.25" textLength="12.6" lengthAdjust="spacingAndGlyphs" transform="rotate(90 221.12 380.8)" >S3</text>
<text x="241.44" y="380.8" font-size="12" font-weight="bold" fill="#595959" text-anchor="start" stroke="#595959" stroke-width="0.25" textLength="19.9" lengthAdjust="spacingAndGlyphs" transform="rotate(90 241.44 380.8)" >F11</text>
<text x="261.76" y="380.8" font-size="12" font-weight="bold" fill="#595959" text-anchor="start" stroke="#595959" stroke-width="0.25" textLength="13.9" lengthAdjust="spacingAndGlyphs" transform="rotate(90 261.76 380.8)" >C1</text>
<text x="282.08" y="380.8" font-size="12" font-weight="bold" fill="#595959" text-anchor="start" stroke="#595959" stroke-width="0.25" textLength="20.5" lengthAdjust="spacingAndGlyphs" transform="rotate(90 282.08 380.8)" >F10</text>
<text x="302.4" y="380.8" font-size="12" font-weight="bold" fill="#595959" text-anchor="start" stroke="#595959" stroke-width="0.25" textLength="13.1" lengthAdjust="spacingAndGlyphs" transform="rotate(90 302.4 380.8)" >S2</text>
<text x="322.72" y="380.8" font-size="12" font-weight="bold" fill="#595959" text-anchor="start" stroke="#595959" stroke-width="0.25" textLength="12.6" lengthAdjust="spacingAndGlyphs" transform="rotate(90 322.72 380.8)" >F3</text>
<text x="343.04" y="380.8" font-size="12" font-weight="bold" fill="#595959" text-anchor="start" stroke="#595959" stroke-width="0.25" textLength="13.9" lengthAdjust="spacingAndGlyphs" transform="rotate(90 343.04 380.8)" >C2</text>
<text x="363.36" y="380.8" font-size="12" font-weight="bold" fill="#595959" text-anchor="start" stroke="#595959" stroke-width="0.25" textLength="15.2" lengthAdjust="spacingAndGlyphs" transform="rotate(90 363.36 380.8)" >G3</text>
<text x="383.68" y="380.8" font-size="12" font-weight="bold" fill="#595959" text-anchor="start" stroke="#595959" stroke-width="0.25" textLength="15.2" lengthAdjust="spacingAndGlyphs" transform="rotate(90 383.68 380.8)" >N1</text>
<text x="404" y="380.8" font-size="12" font-weight="bold" fill="#595959" text-anchor="start" stroke="#595959" stroke-width="0.25" textLength="32.3" lengthAdjust="spacingAndGlyphs" transform="rotate(90 404 380.8)" >UKA2</text>
<text x="424.32" y="380.8" font-size="12" font-weight="bold" fill="#595959" text-anchor="start" stroke="#595959" stroke-width="0.25" textLength="17.3" lengthAdjust="spacingAndGlyphs" transform="rotate(90 424.32 380.8)" >I12</text>
<text x="444.64" y="380.8" font-size="12" font-weight="bold" fill="#595959" text-anchor="start" stroke="#595959" stroke-width="0.25" textLength="10" lengthAdjust="spacingAndGlyphs" transform="rotate(90 444.64 380.8)" >I5</text>
<text x="464.96" y="380.8" font-size="12" font-weight="bold" fill="#595959" text-anchor="start" stroke="#595959" stroke-width="0.25" textLength="20.5" lengthAdjust="spacingAndGlyphs" transform="rotate(90 464.96 380.8)" >F16</text>
<text x="485.28" y="380.8" font-size="12" font-weight="bold" fill="#595959" text-anchor="start" stroke="#595959" stroke-width="0.25" textLength="17.8" lengthAdjust="spacingAndGlyphs" transform="rotate(90 485.28 380.8)" >I11</text>
<text x="505.6" y="380.8" font-size="12" font-weight="bold" fill="#595959" text-anchor="start" stroke="#595959" stroke-width="0.25" textLength="10.5" lengthAdjust="spacingAndGlyphs" transform="rotate(90 505.6 380.8)" >I4</text>
<text x="525.92" y="380.8" font-size="12" font-weight="bold" fill="#595959" text-anchor="start" stroke="#595959" stroke-width="0.25" textLength="10.5" lengthAdjust="spacingAndGlyphs" transform="rotate(90 525.92 380.8)" >I2</text>
<text x="546.24" y="380.8" font-size="12" font-weight="bold" fill="#595959" text-anchor="start" stroke="#595959" stroke-width="0.25" textLength="10.5" lengthAdjust="spacingAndGlyphs" transform="rotate(90 546.24 380.8)" >I7</text>
<text x="566.56" y="380.8" font-size="12" font-weight="bold" fill="#595959" text-anchor="start" stroke="#595959" stroke-width="0.25" textLength="10.5" lengthAdjust="spacingAndGlyphs" transform="rotate(90 566.56 380.8)" >I3</text>
<text x="606.9" y="380.3" font-size="12" font-weight="bold" fill="#595959" text-anchor="start" stroke="#595959" stroke-width="0.25" textLength="40.8" lengthAdjust="spacingAndGlyphs" transform="rotate(90 606.9 380.3)" >cut-off</text>
<rect x="92.3" y="425.8" width="12.5" height="11.3" fill="#66ff66" />
<text x="111.8" y="437.8" font-size="19.5" font-weight="normal" fill="#595959" text-anchor="start" stroke="#595959" stroke-width="0.35" textLength="14.9" lengthAdjust="spacingAndGlyphs" >IT</text>
<rect x="162.3" y="425.8" width="12.5" height="11.3" fill="#ff944d" />
<text x="181.2" y="437.8" font-size="19.5" font-weight="normal" fill="#595959" text-anchor="start" stroke="#595959" stroke-width="0.35" textLength="22.9" lengthAdjust="spacingAndGlyphs" >NL</text>
<rect x="239.4" y="425.8" width="12.5" height="11.3" fill="#00b0f0" />
<text x="258.3" y="437.8" font-size="19.5" font-weight="normal" fill="#595959" text-anchor="start" stroke="#595959" stroke-width="0.35" textLength="20.5" lengthAdjust="spacingAndGlyphs" >FR</text>
<rect x="314.8" y="426.9" width="12.4" height="11" fill="#ffff00" stroke="#000" stroke-width="1.4" />
<text x="333.4" y="437.8" font-size="19.5" font-weight="normal" fill="#595959" text-anchor="start" stroke="#595959" stroke-width="0.35" textLength="20.2" lengthAdjust="spacingAndGlyphs" >SP</text>
<rect x="390.3" y="426.3" width="12.6" height="11.4" fill="url(#grhl)" stroke="#00b0f0" stroke-width="1.4" />
<text x="408.9" y="437.8" font-size="19.5" font-weight="normal" fill="#595959" text-anchor="start" stroke="#595959" stroke-width="0.35" textLength="24.1" lengthAdjust="spacingAndGlyphs" >GR</text>
<rect x="469.3" y="425.8" width="12.5" height="11.3" fill="#bf8f00" />
<text x="488.4" y="437.8" font-size="19.5" font-weight="normal" fill="#595959" text-anchor="start" stroke="#595959" stroke-width="0.35" textLength="33" lengthAdjust="spacingAndGlyphs" >CYP</text>
<rect x="557" y="426.3" width="12.6" height="11.4" fill="url(#ukhl)" stroke="#ff3b1f" stroke-width="1.4" />
<text x="576.2" y="437.8" font-size="19.5" font-weight="normal" fill="#595959" text-anchor="start" stroke="#595959" stroke-width="0.35" textLength="24.1" lengthAdjust="spacingAndGlyphs" >UK</text>
</svg>
</body></html>
